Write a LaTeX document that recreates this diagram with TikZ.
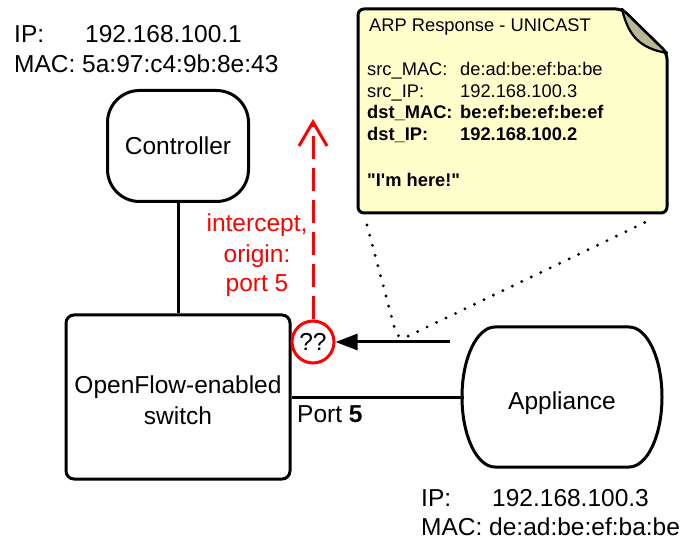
\documentclass[tikz,border=0pt]{standalone}
\usepackage{fontspec}
\setmainfont{Liberation Sans}[Ligatures=TeXOff]
\usetikzlibrary{arrows.meta}

\definecolor{notefill}{RGB}{255,255,204}
\definecolor{foldfill}{RGB}{184,184,150}
\definecolor{inkred}{RGB}{255,0,0}
\definecolor{ink}{RGB}{0,0,0}

\tikzset{
  bigfont/.style={font=\fontsize{24.5}{30}\selectfont},
  notefont/.style={font=\fontsize{18.3}{22}\selectfont},
  notebold/.style={font=\fontsize{18.3}{22}\selectfont\bfseries},
  txt/.style={inner sep=0pt, anchor=base west},
  boxline/.style={draw=ink, line width=3pt},
  wire/.style={draw=ink, line width=3pt},
  dotline/.style={draw=ink, line width=3.2pt, line cap=round, dash pattern=on 0pt off 10.5pt},
  redarrow/.style={draw=inkred, line width=3pt, dash pattern=on 23pt off 9pt,
                   -{Straight Barb[length=24pt,width=28pt]}},
}

\begin{document}
\begin{tikzpicture}[x=1pt, y=-1pt, bigfont]
\useasboundingbox (0,0) rectangle (686,540);

% ---- node blocks ----
\node (ctrl) [boxline, rounded corners=32pt, minimum width=141pt, minimum height=111pt,
              inner sep=0pt] at (178,146) {Controller};
\node (sw) [boxline, rounded corners=8pt, minimum width=224pt, minimum height=164pt,
            align=center, inner sep=0pt] at (178,397) {};
% anchor=base of a two-line node sits on the last line
\node (swtxt) [inner sep=0pt, align=center, anchor=base] at (178,424)
  {OpenFlow-enabled\\[1pt]switch};

% appliance: flat top and bottom, elliptical sides
\node (app) [minimum width=196pt, minimum height=140pt, inner sep=0pt,
             text height=24pt, text depth=0pt] at (562,397) {Appliance};
\draw[boxline] (495,327) -- (629,327)
  arc[start angle=90, end angle=-90, x radius=33pt, y radius=70pt]
  -- (495,467)
  arc[start angle=270, end angle=90, x radius=33pt, y radius=70pt] -- cycle;

% ---- links ----
\draw[wire] (ctrl.south) -- (sw.north);
\draw[wire] (sw.east) -- (app.west);
\node (port) [txt] at (297,422) {Port \textbf{5}};

% ---- interception point ----
\node (q) [circle, draw=inkred, line width=3pt, minimum size=42pt, inner sep=0pt]
  at (313,342) {??};
\coordinate (pkt) at (450,342);
\draw[wire, -{Triangle[length=22pt,width=16pt]}] (pkt) -- (q);
\coordinate (up) at (313,119);
\draw[redarrow] (q.north) -- (up);
\node (l1) [inner sep=0pt, anchor=base, text=inkred] at (257,232) {intercept,};
\node (l2) [inner sep=0pt, anchor=base, text=inkred] at (257,263) {origin:};
\node (l3) [inner sep=0pt, anchor=base, text=inkred] at (257,292) {port 5};

% ---- ARP response note ----
\draw[draw=ink, line width=3pt, fill=notefill, rounded corners=6pt]
  (358,110) -- (358,9) -- (622,9) -- (667,53) -- (667,213) -- (358,213) -- cycle;
\draw[draw=ink, line width=2.2pt, fill=foldfill, line join=round]
  (622,9) .. controls (628,34) and (638,48) .. (667,53) -- cycle;

\node (n0) [txt, notefont] at (369,32) {ARP Response - UNICAST};
\node (n1) [txt, notefont] at (367,76) {src\_MAC:};
\node (v1) [txt, notefont] at (460,76) {de:ad:be:ef:ba:be};
\node (n2) [txt, notefont] at (367,98) {src\_IP:};
\node (v2) [txt, notefont] at (460,98) {192.168.100.3};
\node (n3) [txt, notebold] at (367,119) {dst\_MAC:};
\node (v3) [txt, notebold] at (460,119) {be:ef:be:ef:be:ef};
\node (n4) [txt, notebold] at (367,141) {dst\_IP:};
\node (v4) [txt, notebold] at (460,141) {192.168.100.2};
\node (n5) [txt, notebold] at (367,187) {"I'm here!"};

% callout from the note down to the packet on the wire
\coordinate (cl) at (367,225);
\coordinate (cv) at (398,341);
\coordinate (cr) at (650,220);
\draw[dotline, rounded corners=10pt] (cl) -- (cv) -- (cr);

% ---- address labels ----
\node (cip) [txt] at (14,43) {IP:};
\node (cipv) [txt] at (85,43) {192.168.100.1};
\node (cmac) [txt] at (14,73) {MAC: 5a:97:c4:9b:8e:43};
\node (aip) [txt] at (421,506) {IP:};
\node (aipv) [txt] at (492,506) {192.168.100.3};
\node (amac) [txt] at (421,535) {MAC: de:ad:be:ef:ba:be};
\end{tikzpicture}
\end{document}
